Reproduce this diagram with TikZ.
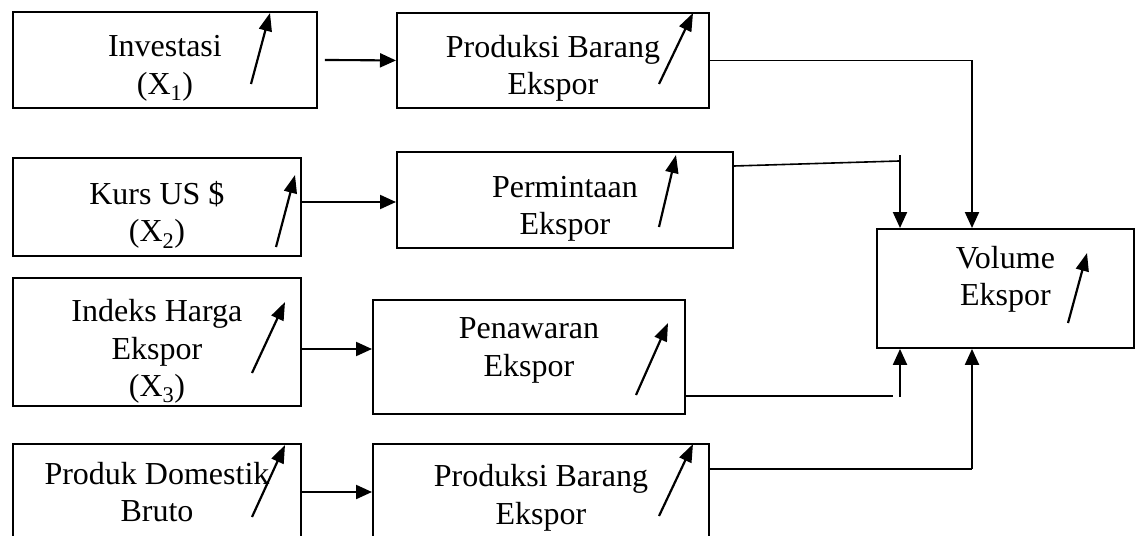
\documentclass[tikz,border=0pt]{standalone}
\usepackage{fontspec}
\setmainfont{Liberation Serif}
\usetikzlibrary{arrows.meta,calc}
\newcommand\tstr[1]{\rule{0pt}{#1}}
\begin{document}
\begin{tikzpicture}[x=1pt,y=-1pt,
  box/.style={draw,line width=1.9pt,inner sep=0pt,anchor=north west,align=center,font=\fontsize{32}{37.5}\selectfont},
  conn/.style={line width=2.1pt,-{Triangle[length=16pt,width=14pt]}},
  wire/.style={line width=1.6pt},
  uparrow/.style={line width=2.2pt,-{Triangle[length=18pt,width=13pt]}}]
\useasboundingbox (0,0) rectangle (1139,535);
\clip (0,0) rectangle (1139,535);
% left column
\node[box,minimum width=304pt,minimum height=96pt] (inv) at (12,11) {\tstr{38pt}Investasi\\(X\textsubscript{1})};
\node[box,minimum width=288pt,minimum height=98pt] (kurs) at (12,157) {\tstr{39pt}Kurs US \$\\(X\textsubscript{2})};
\node[box,minimum width=288pt,minimum height=128pt] (indeks) at (12,277) {\tstr{41pt}Indeks Harga\\Ekspor\\(X\textsubscript{3})};
\node[box,minimum width=288pt,minimum height=96pt] (produk) at (12,443) {Produk Domestik\\Bruto};
% middle column
\node[box,minimum width=312pt,minimum height=95pt] (prod1) at (396,12) {\tstr{38pt}Produksi Barang\\Ekspor};
\node[box,minimum width=336pt,minimum height=96pt] (perm) at (396,151) {\tstr{39pt}Permintaan\\Ekspor};
\node[box,minimum width=312pt,minimum height=114pt,text depth=20pt] (pen) at (372,299) {Penawaran\\Ekspor};
\node[box,minimum width=336pt,minimum height=96pt] (prod2) at (372,443) {\tstr{34pt}Produksi Barang\\Ekspor};
% right
\node[box,minimum width=257pt,minimum height=119pt,text depth=25pt] (vol) at (876,228) {Volume\\Ekspor};
% up arrows inside boxes
\draw[uparrow] (251,84) -- (270,13);
\draw[uparrow] (276,247) -- (295,175);
\draw[uparrow] (252,373) -- (285,302);
\draw[uparrow] (252,517) -- (285,445);
\draw[uparrow] (659,84) -- (693,13);
\draw[uparrow] (659,227) -- (676,155);
\draw[uparrow] (636,395) -- (668,323);
\draw[uparrow] (659,516) -- (693,444);
\draw[uparrow] (1068,323) -- (1087,253);
% connectors left -> middle
\draw[conn] ([xshift=7pt]inv.east) -- (prod1.west);
\draw[conn] (kurs.east |- 0,202) -- (perm.west |- 0,202);
\draw[conn] (indeks.east |- 0,349) -- (pen.west |- 0,349);
\draw[conn] (produk.east |- 0,492) -- (prod2.west |- 0,492);
% connectors middle -> volume
\coordinate (vt1) at ($(vol.north west)+(24,0)$);
\coordinate (vt2) at ($(vol.north west)+(96,0)$);
\coordinate (vb1) at ($(vol.south west)+(24,0)$);
\coordinate (vb2) at ($(vol.south west)+(96,0)$);
\coordinate (pj) at (899,161);
\coordinate (qj) at (893,396);
\coordinate (tc) at (prod1.east -| vt2);
\coordinate (bc) at (vb2 |- 0,469);
\draw[wire] (prod1.east) -- (tc);
\draw[conn] (tc) -- (vt2);
\draw[wire] (perm.east |- 0,166) -- (pj);
\draw[conn] (vt1 |- 0,155) -- (vt1);
\draw[wire] (pen.east |- 0,396) -- (qj);
\draw[conn] (vb1 |- 0,397) -- (vb1);
\draw[wire] (prod2.east |- bc) -- (bc);
\draw[conn] (bc) -- (vb2);
\end{tikzpicture}
\end{document}
